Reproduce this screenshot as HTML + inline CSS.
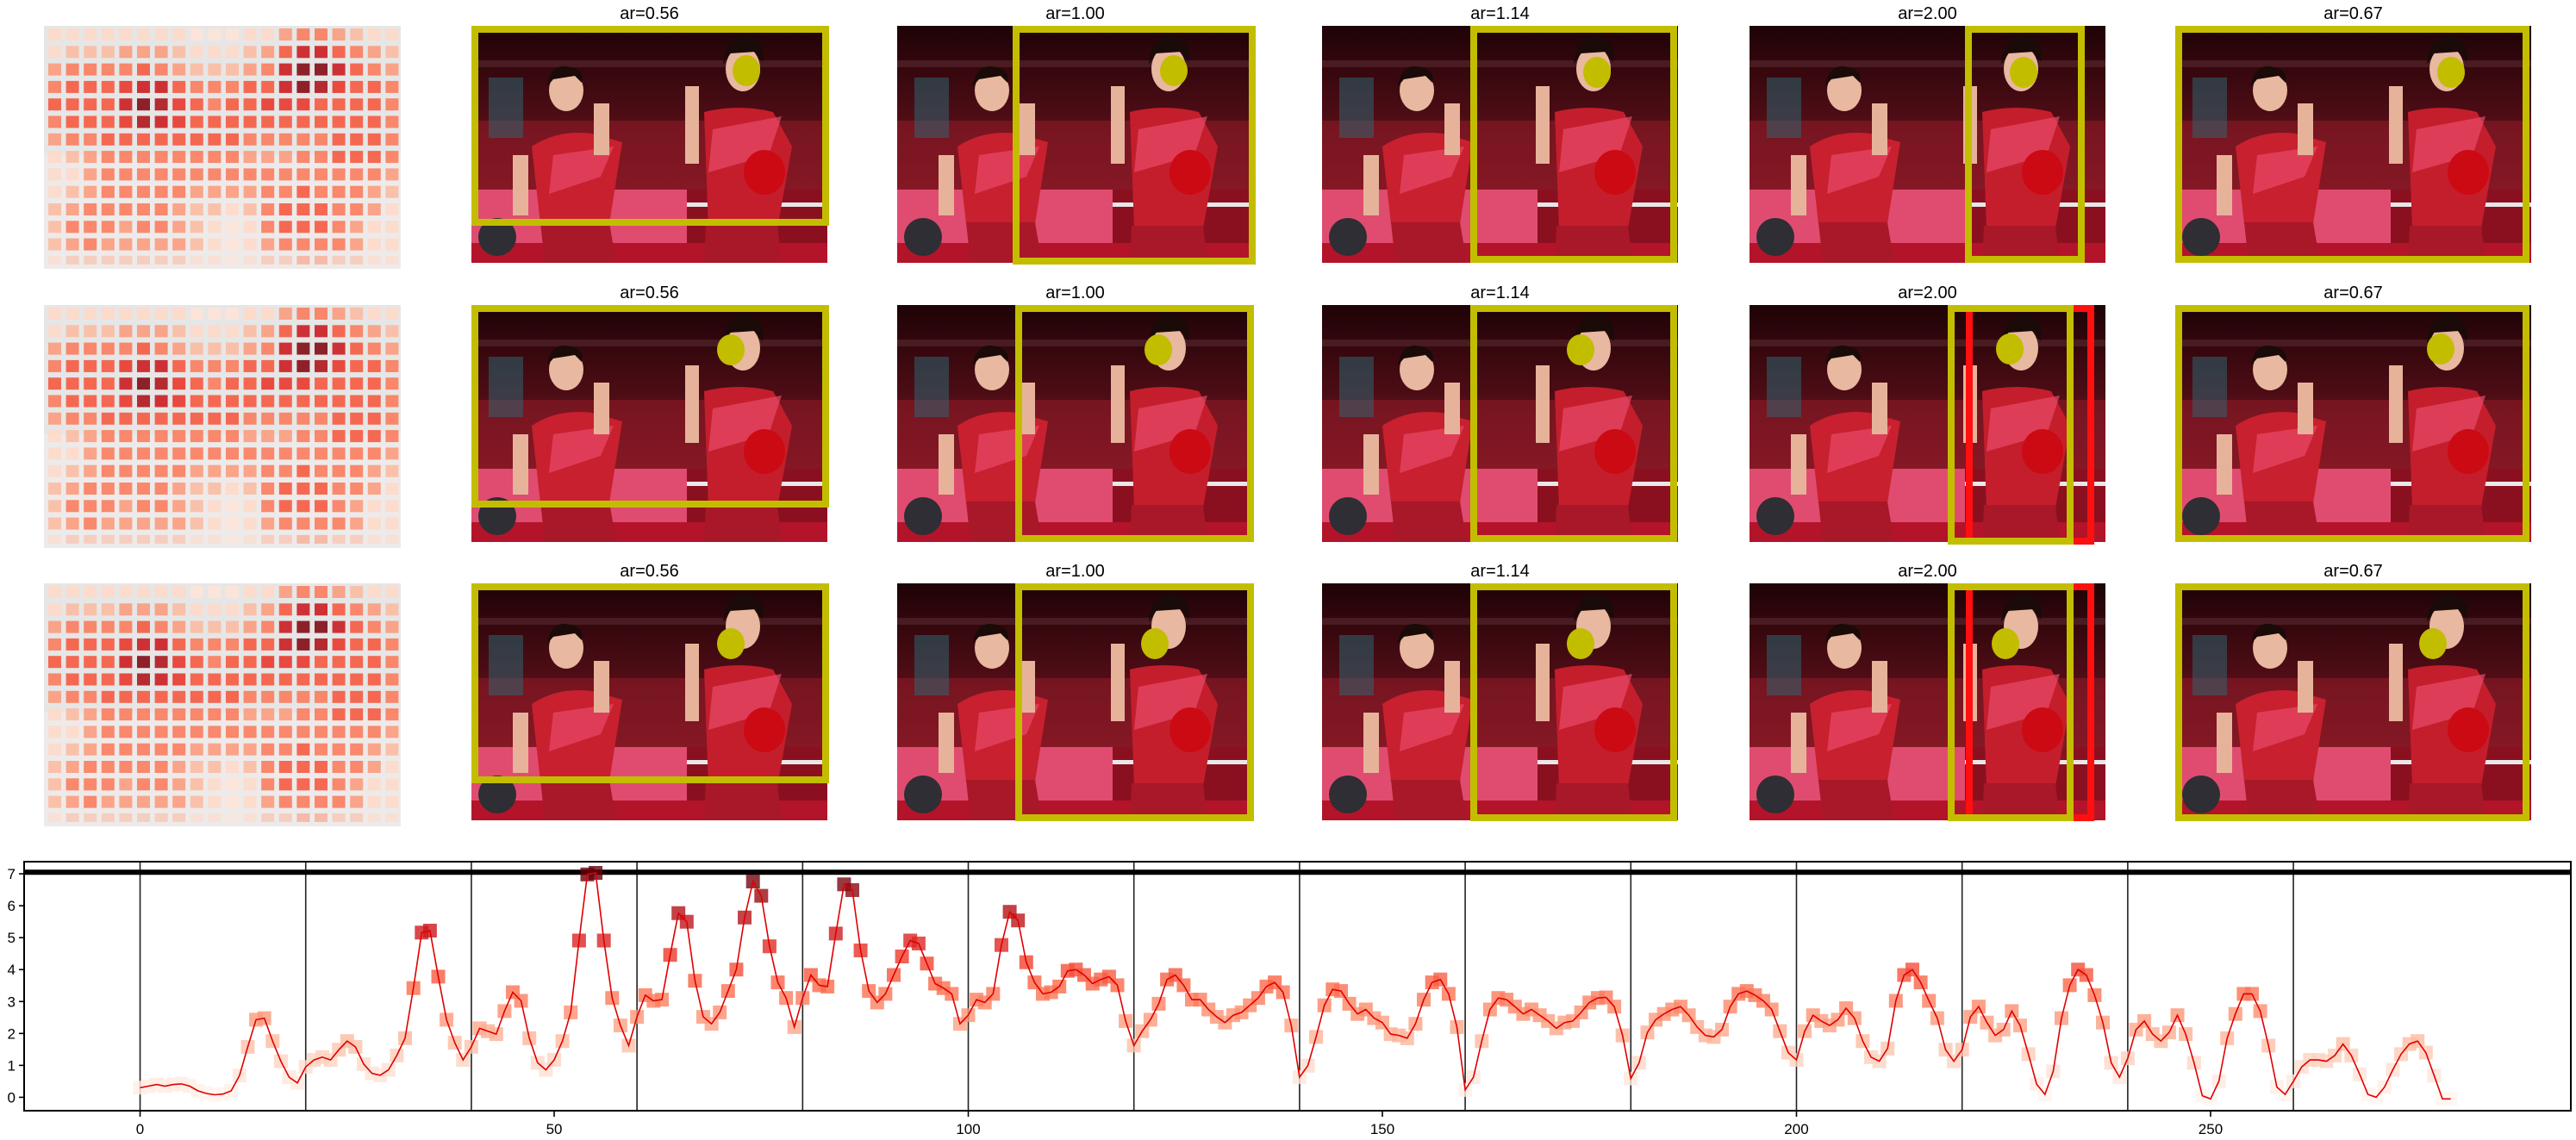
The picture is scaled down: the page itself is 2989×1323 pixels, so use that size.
<!DOCTYPE html>
<html><head><meta charset="utf-8">
<style>
html,body{margin:0;padding:0;background:#fff;}
svg{display:block;font-family:"Liberation Sans","DejaVu Sans",sans-serif;}
</style></head>
<body>
<svg id="root" width="2989" height="1323" viewBox="0 0 2989 1323" xmlns="http://www.w3.org/2000/svg">
<defs>
  <linearGradient id="bgGrad" x1="0" y1="0" x2="0" y2="1">
    <stop offset="0" stop-color="#1e0306"/>
    <stop offset="0.35" stop-color="#4a0c14"/>
    <stop offset="0.7" stop-color="#7a1420"/>
    <stop offset="1" stop-color="#8a1420"/>
  </linearGradient>
  <symbol id="photo" viewBox="0 0 413 275" preserveAspectRatio="none">
    <rect x="0" y="0" width="413" height="275" fill="url(#bgGrad)"/>
    <rect x="0" y="40" width="413" height="8" fill="#5a2a30" opacity="0.6"/>
    <rect x="0" y="110" width="413" height="80" fill="#8d1a28" opacity="0.6"/>
    <rect x="20" y="60" width="40" height="70" fill="#2a6b78" opacity="0.5"/>
    <rect x="0" y="190" width="413" height="62" fill="#e04c70"/>
    <rect x="250" y="190" width="163" height="62" fill="#8a1020"/>
    <rect x="250" y="205" width="163" height="5" fill="#e8e8e8"/>
    <rect x="0" y="252" width="413" height="23" fill="#b3142a"/>
    <ellipse cx="110" cy="75" rx="20" ry="24" fill="#e8b8a0"/>
    <path d="M88 70 Q92 42 115 48 Q132 52 128 66 L120 58 L95 62 Z" fill="#1a0a08"/>
    <path d="M70 140 Q100 120 140 125 L175 135 L160 230 L80 230 Z" fill="#c8202e"/>
    <path d="M95 150 L165 140 L150 175 L90 195 Z" fill="#e84a6a" opacity="0.7"/>
    <path d="M80 228 L160 228 L168 275 L85 275 Z" fill="#a81828"/>
    <rect x="142" y="90" width="18" height="60" fill="#e6b39a"/>
    <rect x="48" y="150" width="18" height="70" fill="#e6b39a"/>
    <circle cx="30" cy="245" r="22" fill="#2e2e34"/>
    <ellipse cx="315" cy="50" rx="20" ry="26" fill="#e8b8a0"/>
    <path d="M292 45 Q295 12 318 12 Q342 14 338 42 L330 30 L300 32 Z" fill="#1a0a08"/>
    <path d="M270 100 Q310 90 350 100 L372 140 L355 235 L275 235 Z" fill="#c41e2c"/>
    <path d="M280 120 L360 105 L345 150 L275 170 Z" fill="#e84a6a" opacity="0.7"/>
    <path d="M272 232 L355 232 L360 275 L270 275 Z" fill="#a81828"/>
    <rect x="248" y="70" width="16" height="90" fill="#e6b39a"/>
    <ellipse cx="340" cy="170" rx="24" ry="26" fill="#cc0a14"/>
  </symbol>
</defs>
<g id="panels"></g>
<g id="chart"></g>
</svg>
<script>
var hmRow0 = [1,1,1,1,1,1,1,1,0.5,0.5,0.5,1,1,3,4,4,3,2,1,1];
var hmRow1 = [1,2,2,2,3,3,3,2,1,1,1,2,3,5,7,7,5,4,3,2];
var hmRow2 = [3,4,4,4,4,5,4,3,2,2,2,3,4,7,9,9,7,5,4,3];
var hmRow3 = [4,5,5,5,6,7,7,5,4,4,4,5,5,7,9,8,6,5,5,4];
var hmRow4 = [5,5,5,5,7,9,8,6,5,4,5,5,6,6,6,5,5,5,5,4];
var hmRow5 = [4,5,5,5,6,8,7,6,5,5,5,5,5,5,5,5,5,5,5,4];
var hmRow6 = [3,4,4,5,5,5,5,5,5,5,5,4,4,4,4,4,5,5,5,4];
var hmRow7 = [1,2,3,4,4,4,4,4,4,4,4,3,3,3,4,4,5,5,5,4];
var hmRow8 = [1,1,3,4,4,4,4,4,4,4,4,4,4,4,4,4,4,4,4,3];
var hmRow9 = [1,2,3,4,4,4,4,4,3,3,3,3,4,4,5,4,4,4,3,2];
var hmRow10 = [2,3,4,4,4,4,4,3,2,2,1,2,4,5,5,5,4,4,3,1];
var hmRow11 = [2,4,4,4,3,4,4,3,2,1,0.5,1,4,5,5,5,4,3,1,1];
var hmRow12 = [2,3,4,3,3,3,3,3,2,1,0.5,1,3,4,4,4,4,3,1,1];
var hmRow13 = [1,2,2,2,2,2,2,2,1,1,0.5,1,2,2,3,3,2,2,1,1];
var hmRows = [hmRow0,hmRow1,hmRow2,hmRow3,hmRow4,hmRow5,hmRow6,hmRow7,hmRow8,hmRow9,hmRow10,hmRow11,hmRow12,hmRow13];

var arLabels = ["ar=0.56","ar=1.00","ar=1.14","ar=2.00","ar=0.67"];

var scores = [
0.3,0.35,0.4,0.35,0.4,0.42,0.35,0.2,0.12,0.08,0.1,0.2,0.68,1.58,2.43,2.48,1.76,1.13,0.63,0.45,
0.95,1.17,1.26,1.17,1.49,1.76,1.58,1.04,0.75,0.69,0.86,1.31,1.85,3.42,5.16,5.22,3.78,2.43,1.71,1.17,
1.58,2.16,2.07,1.98,2.7,3.29,3.02,1.85,1.08,0.86,1.17,1.76,2.66,4.91,6.98,7.03,4.91,3.11,2.25,1.62,
2.52,3.2,3.02,3.06,4.46,5.77,5.5,3.65,2.52,2.3,2.66,3.33,4.0,5.63,6.76,6.31,4.73,3.6,3.11,2.2,
3.11,3.83,3.51,3.47,5.13,6.67,6.49,4.6,3.33,2.97,3.24,3.83,4.41,4.91,4.82,4.19,3.56,3.42,3.24,2.3,
2.57,3.06,2.97,3.24,4.77,5.81,5.54,4.23,3.6,3.24,3.29,3.47,3.96,4.0,3.83,3.56,3.69,3.78,3.51,2.39,
1.62,2.07,2.43,2.93,3.69,3.83,3.51,3.06,3.06,2.75,2.52,2.34,2.57,2.66,2.88,3.11,3.47,3.6,3.29,2.25,
0.63,0.99,1.89,2.88,3.38,3.33,2.93,2.61,2.75,2.48,2.34,1.98,1.94,1.85,2.3,3.06,3.6,3.69,3.24,2.2,
0.23,0.63,1.76,2.75,3.11,3.06,2.84,2.61,2.75,2.57,2.39,2.16,2.34,2.39,2.66,2.97,3.11,3.13,2.84,1.94,
0.59,1.08,2.03,2.43,2.61,2.75,2.84,2.57,2.2,1.94,1.89,2.12,2.84,3.24,3.33,3.2,3.02,2.75,2.07,1.4,
1.17,2.07,2.57,2.39,2.25,2.43,2.79,2.48,1.76,1.26,1.13,1.53,3.02,3.83,4.0,3.6,3.02,2.48,1.49,1.13,
1.49,2.52,2.84,2.34,1.94,2.12,2.7,2.25,1.35,0.41,0.09,0.81,2.48,3.51,4.0,3.83,3.2,2.34,1.08,0.63,
1.22,2.12,2.39,1.98,1.76,2.03,2.57,1.98,1.08,0.05,-0.05,0.5,1.85,2.61,3.24,3.24,2.7,1.62,0.32,0.09,
0.5,0.95,1.17,1.17,1.13,1.31,1.67,1.31,0.72,0.09,0,0.32,0.86,1.35,1.67,1.76,1.4,0.68,-0.05,-0.05];
var segmentBounds = [0,20,40,60,80,100,120,140,160,180,200,220,240,260];
var thresholdValue = [7.05];
var xTickValues = [0,50,100,150,200,250];
var yTickValues = [0,1,2,3,4,5,6,7];

(function(){
var NS = "http://www.w3.org/2000/svg";
function mk(tag, attrs, parent){
  var e = document.createElementNS(NS, tag);
  for (var k in attrs) e.setAttribute(k, attrs[k]);
  if (parent) parent.appendChild(e);
  return e;
}
var redsStops = [[0,[255,245,240]],[0.125,[254,224,210]],[0.25,[252,187,161]],[0.375,[252,146,114]],[0.5,[251,106,74]],[0.625,[239,59,44]],[0.75,[203,24,29]],[0.875,[165,15,21]],[1,[103,0,13]]];
function reds(t){
  t = Math.max(0, Math.min(1, t));
  for (var i=1;i<redsStops.length;i++){
    if (t <= redsStops[i][0]){
      var a = redsStops[i-1], b = redsStops[i];
      var f = (t - a[0])/(b[0]-a[0]);
      var c = a[1].map(function(v,j){return Math.round(v + (b[1][j]-v)*f);});
      return "rgb("+c.join(",")+")";
    }
  }
  return "rgb(103,0,13)";
}

var panels = document.getElementById("panels");
var rowTops = [30, 354, 677];
var colLefts = [547, 1041, 1534, 2030, 2524];
var photoW = 413, photoH = 275;
var boxes = [
  [[547,962,30,262],[1175,1457,30,307],[1706,1946,30,305],[2280,2419,30,305],[2524,2935,30,305]],
  [[547,962,354,589],[1178,1455,354,629],[1706,1946,354,629],[2260,2406,354,632],[2524,2935,354,629]],
  [[547,962,677,909],[1178,1455,677,953],[1706,1946,677,953],[2260,2406,677,953],[2524,2935,677,953]]
];
var circles = [
  [[866,82],[1362,82],[1853,84],[2348,84],[2844,84]],
  [[848,406],[1344,406],[1834,406],[2332,405],[2832,405]],
  [[848,747],[1340,747],[1834,747],[2327,747],[2823,747]]
];
for (var r=0;r<3;r++){
  var rowG = mk("g", {}, panels);
  
  
  var hg = mk("g", {}, rowG);
  
  
  var rowTop = rowTops[r];
  mk("rect", {x:51, y:rowTop, width:414, height:282, fill:"#e6e6e6"}, hg);
  mk("rect", {x:51, y:rowTop+150, width:414, height:132, fill:"#f6eeee", opacity:0.5}, hg);
  for (var i=0;i<hmRows.length;i++){
    for (var j=0;j<hmRows[i].length;j++){
      var v = hmRows[i][j];
      var cell = mk("rect", {x:(56+j*20.6).toFixed(1), y:(rowTop+3+i*20.3).toFixed(1), width:15, height:i==13?10:14, fill:reds(v/9.5*0.95+0.05), opacity:i==13?0.6:0.88}, hg);
      
      
    }
  }
  for (var c=0;c<5;c++){
    var pg = mk("g", {}, rowG);
    
    
    var tt = mk("text", {x:colLefts[c]+photoW/2, y:rowTops[r]-8, "text-anchor":"middle", "font-size":20, fill:"#000"}, pg);
    tt.textContent = arLabels[c];
    
    
    var u = mk("use", {href:"#photo", x:colLefts[c], y:rowTops[r], width:photoW, height:photoH}, pg);
    u.setAttributeNS("http://www.w3.org/1999/xlink", "xlink:href", "#photo");
    
    
    var b = boxes[r][c];
    if (r>0 && c==3){
      var rb = mk("rect", {x:2285, y:b[2]+4, width:2426-2285, height:b[3]-b[2]-8, fill:"none", stroke:"#ff1010", "stroke-width":8}, pg);
      
      
    }
    var yb = mk("rect", {x:b[0]+4, y:b[2]+4, width:b[1]-b[0]-8, height:b[3]-b[2]-8, fill:"none", stroke:"#c3bd00", "stroke-width":8}, pg);
    
    
    var cc = mk("ellipse", {cx:circles[r][c][0], cy:circles[r][c][1], rx:16, ry:18, fill:"#c3bd00"}, pg);
    
    
  }
}

var chart = document.getElementById("chart");
var AX_L = 28, AX_R = 2983, AX_T = 1000, AX_B = 1289;
var XMIN = -14, XMAX = 293.5, YMIN = -0.42, YMAX = 7.38;
function sx(v){ return AX_L + (v - XMIN)/(XMAX - XMIN)*(AX_R - AX_L); }
function sy(v){ return AX_B - (v - YMIN)/(YMAX - YMIN)*(AX_B - AX_T); }

segmentBounds.forEach(function(s){
  var l = mk("line", {x1:sx(s), x2:sx(s), y1:AX_T, y2:AX_B, stroke:"#222", "stroke-width":1.6}, chart);
  
  
});
thresholdValue.forEach(function(tv){
  var l = mk("line", {x1:AX_L, x2:AX_R, y1:sy(tv), y2:sy(tv), stroke:"#000", "stroke-width":6}, chart);
  
  
});
var mg = mk("g", {}, chart);


scores.forEach(function(v, i){
  var m = mk("rect", {x:(sx(i)-8).toFixed(1), y:(sy(v)-8).toFixed(1), width:16, height:16, fill:reds(Math.max(0,v)/7), opacity:0.8}, mg);
  
  
});
var pts = scores.map(function(v,i){ return sx(i).toFixed(1)+","+sy(v).toFixed(1); }).join(" ");
var pl = mk("polyline", {points:pts, fill:"none", stroke:"#e00000", "stroke-width":1.6}, chart);



var fr = mk("rect", {x:AX_L, y:AX_T, width:AX_R-AX_L, height:AX_B-AX_T, fill:"none", stroke:"#000", "stroke-width":2}, chart);



xTickValues.forEach(function(v){
  var tk = mk("line", {x1:sx(v), x2:sx(v), y1:AX_B, y2:AX_B+7, stroke:"#000", "stroke-width":1.6}, chart);
  
  
  var tl = mk("text", {x:sx(v), y:AX_B+27, "text-anchor":"middle", "font-size":17, fill:"#000"}, chart);
  tl.textContent = String(v);
  
  
});
yTickValues.forEach(function(v){
  var tk = mk("line", {x1:AX_L-6, x2:AX_L, y1:sy(v), y2:sy(v), stroke:"#000", "stroke-width":1.6}, chart);
  
  
  var tl = mk("text", {x:AX_L-10, y:sy(v)+6, "text-anchor":"end", "font-size":17, fill:"#000"}, chart);
  tl.textContent = String(v);
  
  
});
})();
</script>
</body></html>
